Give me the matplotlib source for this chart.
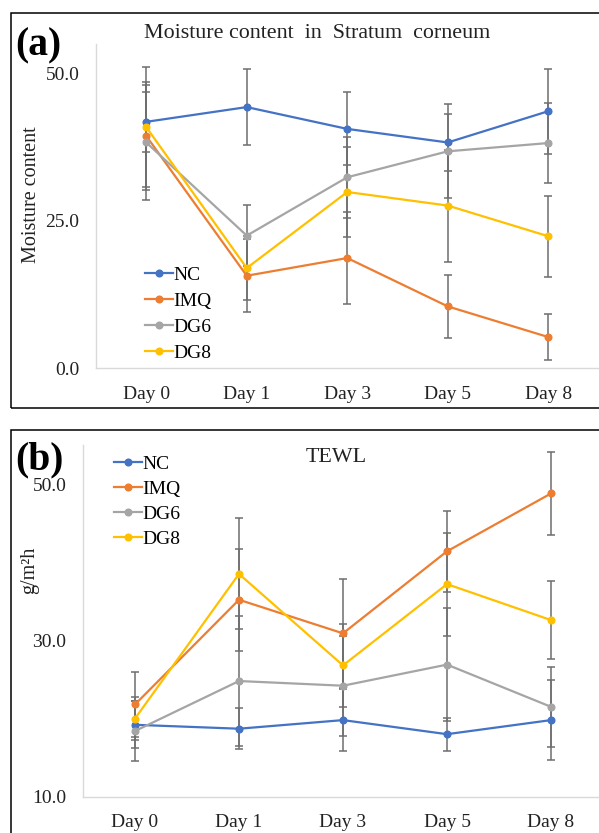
import matplotlib
matplotlib.use("Agg")
import matplotlib.pyplot as plt
from matplotlib.patches import Rectangle

plt.rcParams['font.family'] = ['Liberation Serif', 'DejaVu Serif']

# ---- data ----
days = ["Day 0", "Day 1", "Day 3", "Day 5", "Day 8"]
groups = ["NC", "IMQ", "DG6", "DG8"]
colors = ["#4472C4", "#ED7D31", "#A5A5A5", "#FFC000"]

# (a) moisture content in stratum corneum
moist_nc = [41.8, 44.3, 40.6, 38.3, 43.6]
moist_imq = [39.4, 15.7, 18.7, 10.5, 5.3]
moist_dg6 = [38.3, 22.5, 32.4, 36.8, 38.2]
moist_dg8 = [40.9, 17.0, 29.9, 27.6, 22.4]
moist_nc_err = [5.1, 6.4, 6.2, 4.8, 7.2]
moist_imq_err = [9.1, 6.2, 7.8, 5.3, 3.9]
moist_dg6_err = [9.7, 5.2, 6.9, 8.0, 6.8]
moist_dg8_err = [10.2, 5.4, 7.7, 9.5, 6.9]

# (b) TEWL
tewl_nc = [19.2, 18.7, 19.8, 18.0, 19.8]
tewl_imq = [21.8, 35.2, 30.9, 41.4, 48.8]
tewl_dg6 = [18.4, 24.8, 24.2, 26.9, 21.5]
tewl_dg8 = [20.0, 38.5, 26.8, 37.2, 32.6]
tewl_nc_err = [3.0, 2.6, 4.0, 2.1, 5.1]
tewl_imq_err = [4.2, 6.5, 7.0, 5.2, 5.3]
tewl_dg6_err = [3.8, 8.3, 6.4, 7.2, 5.1]
tewl_dg8_err = [2.8, 7.1, 5.3, 6.6, 5.0]

W, H = 599, 833
fig = plt.figure(figsize=(W / 100, H / 100), dpi=100)


def fx(px):
    return px / W


def fy(py):
    return 1 - py / H


def draw_panel(ax, series, errs, ylim, yticks):
    x = list(range(len(days)))
    for vals, err, c, name in zip(series, errs, colors, groups):
        ax.errorbar(x, vals, yerr=err, fmt='none', ecolor='#6e6e6e',
                    elinewidth=1.1, capsize=2.6, capthick=1.1, zorder=2)
        ax.plot(x, vals, color=c, lw=1.6, marker='o', ms=4.8, label=name, zorder=3)
    ax.set_xlim(-0.5, len(days) - 0.5)
    ax.set_ylim(*ylim)
    ax.set_xticks(x)
    ax.set_xticklabels(days, fontsize=14)
    ax.set_yticks(yticks)
    ax.set_yticklabels([f"{t:.1f}" for t in yticks], fontsize=14)
    ax.tick_params(length=0, colors='#222222')
    ax.tick_params(axis='y', pad=12)
    ax.tick_params(axis='x', pad=12.5)
    for s in ['top', 'right']:
        ax.spines[s].set_visible(False)
    for s in ['left', 'bottom']:
        ax.spines[s].set_color('#d9d9d9')
        ax.spines[s].set_linewidth(1.0)
    ax.patch.set_alpha(0)


# ---- panel frames ----
fig.patches.append(Rectangle((fx(10.5), fy(407.7)), fx(640) - fx(10.5), fy(13.3) - fy(407.7),
                             transform=fig.transFigure, fill=False, ec='black', lw=1.1))
fig.patches.append(Rectangle((fx(10.5), fy(900)), fx(640) - fx(10.5), fy(430) - fy(900),
                             transform=fig.transFigure, fill=False, ec='black', lw=1.1))

# ---- panel (a) ----
ax1 = fig.add_axes([fx(96), fy(368.3), fx(598.5) - fx(96), fy(44) - fy(368.3)])
draw_panel(ax1, [moist_nc, moist_imq, moist_dg6, moist_dg8],
           [moist_nc_err, moist_imq_err, moist_dg6_err, moist_dg8_err],
           (0, 55), [0, 25, 50])
leg1 = ax1.legend(loc='upper left', frameon=False,
                  fontsize=14, handlelength=1.45, handletextpad=0.0, labelspacing=0.43,
                  borderaxespad=0, borderpad=0)
leg1.set_bbox_to_anchor((0.0975, (368.3 - 266) / 324.3), transform=ax1.transAxes)
fig.text(fx(317), fy(34), "Moisture content  in  Stratum  corneum", fontsize=15.8,
         ha='center', va='center', color='#222222')
fig.text(fx(32), fy(195), "Moisture content", fontsize=14.5, rotation=90,
         ha='center', va='center', color='#222222')
fig.text(fx(15), fy(46), "(a)", fontsize=28.5, fontweight='bold', ha='left', va='center')

# ---- panel (b) ----
ax2 = fig.add_axes([fx(83), fy(796.7), fx(603) - fx(83), fy(445) - fy(796.7)])
draw_panel(ax2, [tewl_nc, tewl_imq, tewl_dg6, tewl_dg8],
           [tewl_nc_err, tewl_imq_err, tewl_dg6_err, tewl_dg8_err],
           (10, 55), [10, 30, 50])
leg2 = ax2.legend(loc='upper left', frameon=False,
                  fontsize=14, handlelength=1.45, handletextpad=0.0, labelspacing=0.38,
                  borderaxespad=0, borderpad=0)
leg2.set_bbox_to_anchor(((114 - 83) / 520, (796.7 - 455) / 351.7), transform=ax2.transAxes)
fig.text(fx(336), fy(458), "TEWL", fontsize=15.8, ha='center', va='center', color='#222222')
fig.text(fx(30), fy(570), "g/m²h", fontsize=14.5, rotation=90,
         ha='center', va='center', color='#222222')
fig.text(fx(15), fy(460), "(b)", fontsize=28.5, fontweight='bold', ha='left', va='center')

fig.savefig("out.png", dpi=100)
